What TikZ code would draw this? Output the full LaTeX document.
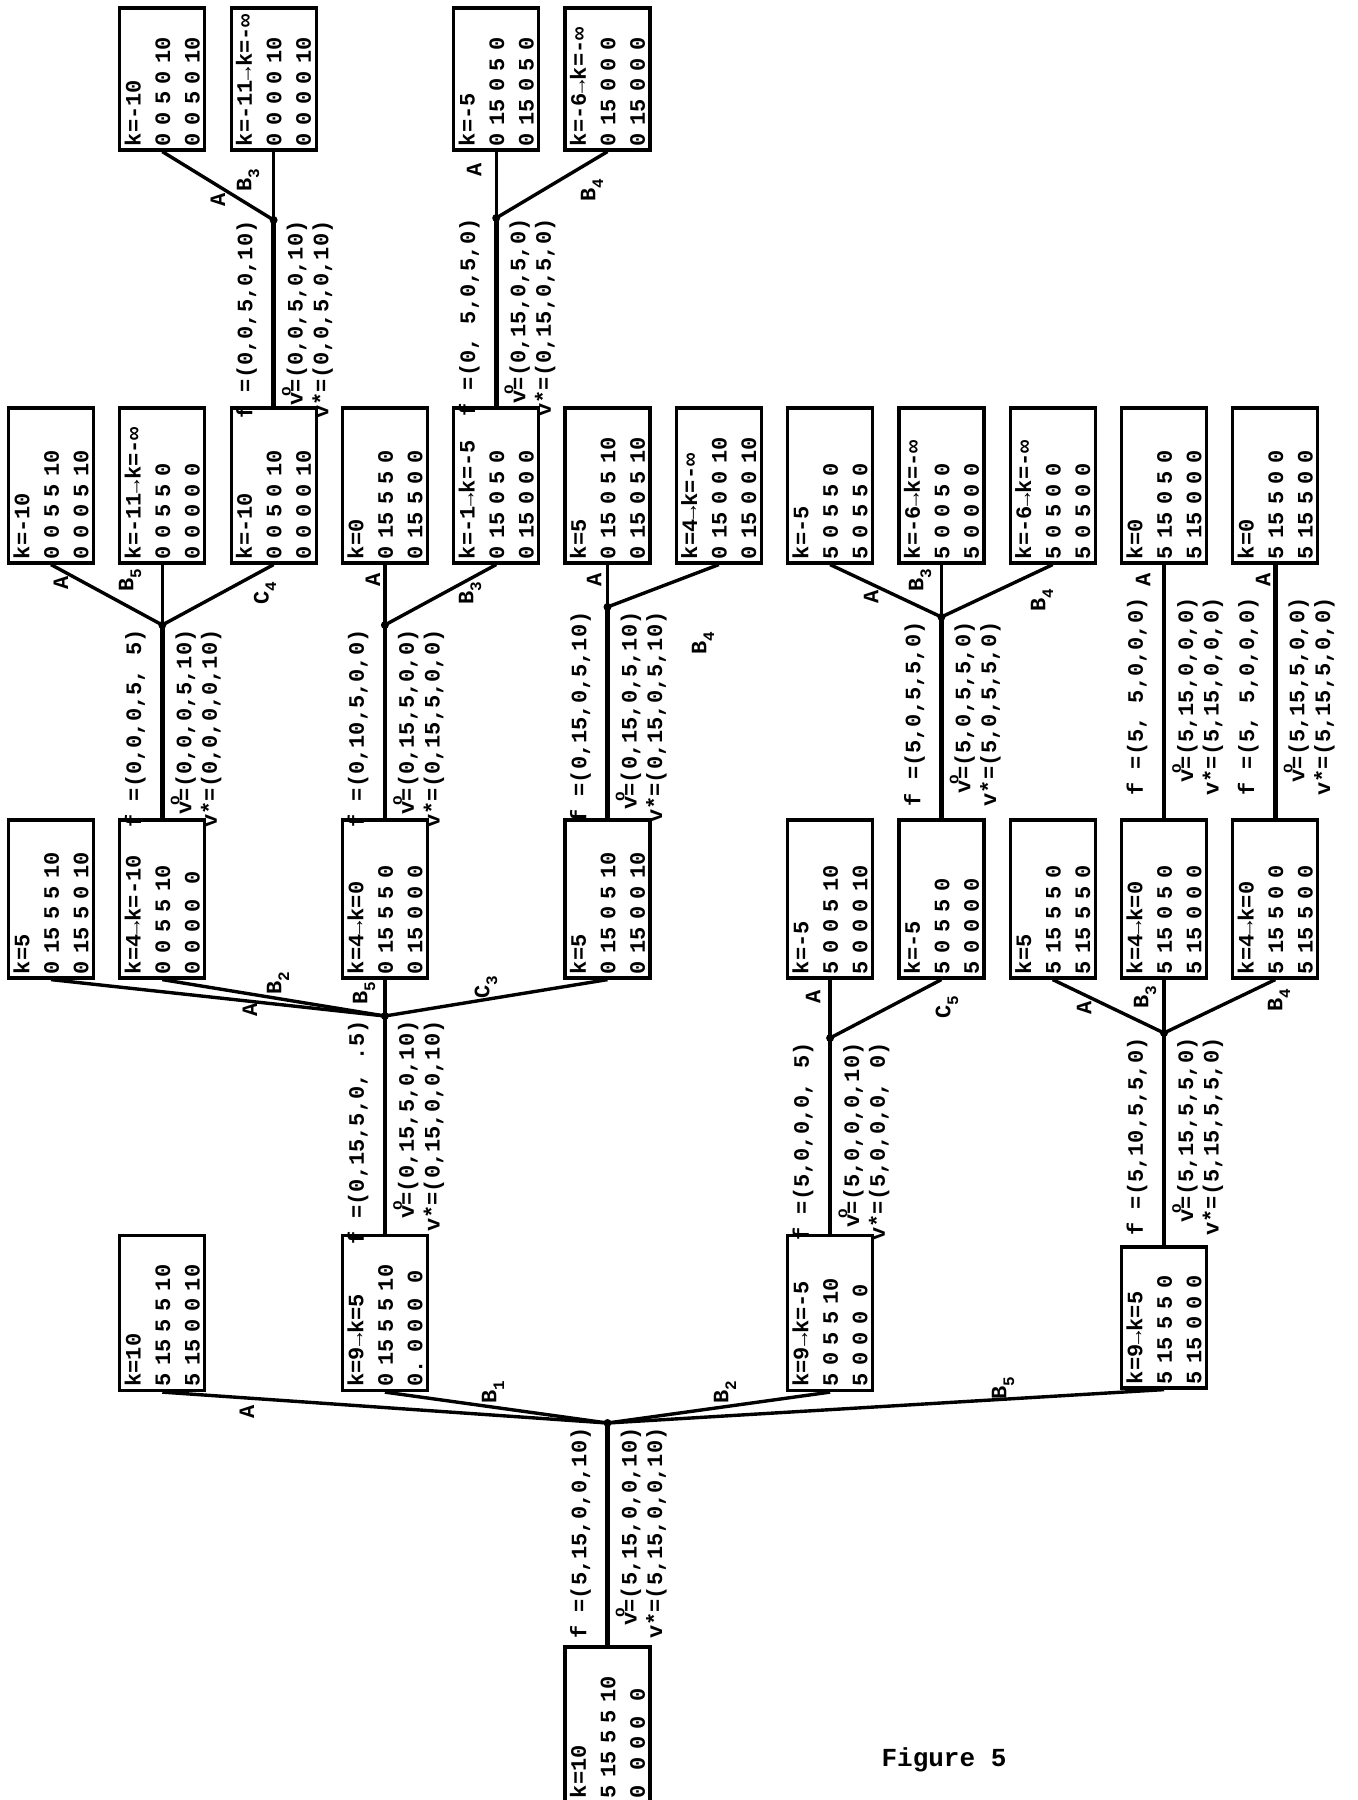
\documentclass[tikz,border=0pt]{standalone}
\usepackage{fontspec}
\newfontfamily\tyf{Liberation Mono}
\newcommand\tyfont[2]{\tyf\bfseries\fontsize{#1}{#2}\selectfont\fontdimen2\font=0.6em\fontdimen3\font=0pt\fontdimen4\font=0pt\relax}
\newcommand\vsup{\makebox[0pt][c]{\raisebox{0.55em}{\fontsize{8}{8}\selectfont o}}}
\newcommand\sbs[1]{\raisebox{-0.35em}{\fontsize{8}{8}\selectfont #1}}
\newcommand\stemlab[6]{%
  \node[lab] (#1f) at (#2-27,#3+4) {f =(#4)};
  \node[lab] (#1o) at (#2+21,#3+4) {v\vsup=(#5)};
  \node[lab] (#1s) at (#2+49,#3+4) {v*=(#6)};}
\begin{document}
\begin{tikzpicture}[x=0.5pt,y=-0.5pt,
  bx/.style={draw, line width=1.6pt, rotate=90, minimum height=42.5pt, inner xsep=2pt, inner ysep=0pt, text width=#1, align=left, font=\tyfont{11}{14.75}},
  bx/.default=73.5pt,
  lab/.style={rotate=90, anchor=east, inner sep=0pt, font=\tyfont{11}{13}},
  el/.style={rotate=90, inner sep=0pt, font=\tyfont{11}{13}},
  dot/.style={circle, fill, inner sep=0pt, minimum size=4pt},
  ln/.style={line width=1.7pt},
  stm/.style={line width=2.3pt}]
\fill[white] (0,0) rectangle (1358,1800);
\useasboundingbox (0,0) rectangle (1358,1800);

% ---------- root ----------
\node[bx] (r) at (607.5,1724.5) {k=10\\5 15 5 5 10\\0~~0 0 0~~0};
\node[dot] (j0) at (607.5,1423) {};

% ---------- level 1 ----------
\node[bx] (p1) at (162.3,1313) {k=10\\5 15 5 5 10\\5 15 0 0 10};
\node[bx] (p3) at (384.9,1313) {k=9→k=5\\0 15 5 5 10\\0.~0 0 0~~0};
\node[bx] (p7) at (830.1,1313) {k=9→k=-5\\5 0 5 5 10\\5 0 0 0~~0};
\node[bx=66.5pt] (p10) at (1164,1317.5) {k=9→k=5\\5 15 5 5 0\\5 15 0 0 0};
\node[dot] (jb1) at (384.9,1016) {};
\node[dot] (jb2) at (830.1,1038) {};
\node[dot] (jb5) at (1164,1033) {};

% ---------- level 2 ----------
\node[bx=75pt] (s0) at (51,899) {k=5\\0 15 5 5 10\\0 15 5 0 10};
\node[bx=75pt] (s1) at (162.3,899) {k=4→k=-10\\0 0 5 5 10\\0 0 0 0~~0};
\node[bx=75pt] (s3) at (384.9,899) {k=4→k=0\\0 15 5 5 0\\0 15 0 0 0};
\node[bx=75pt] (s5) at (607.5,899) {k=5\\0 15 0 5 10\\0 15 0 0 10};
\node[bx=75pt] (s7) at (830.1,899) {k=-5\\5 0 0 5 10\\5 0 0 0 10};
\node[bx=75pt] (s8) at (941.4,899) {k=-5\\5 0 5 5 0\\5 0 0 0 0};
\node[bx=75pt] (s9) at (1052.7,899) {k=5\\5 15 5 5 0\\5 15 5 5 0};
\node[bx=75pt] (s10) at (1164,899) {k=4→k=0\\5 15 0 5 0\\5 15 0 0 0};
\node[bx=75pt] (s11) at (1275.3,899) {k=4→k=0\\5 15 5 0 0\\5 15 5 0 0};
\node[dot] (jb1b2) at (162.3,625) {};
\node[dot] (jb1b5) at (384.9,625) {};
\node[dot] (jb1c3) at (607.5,607) {};
\node[dot] (jb2c5) at (941.4,617) {};

% ---------- level 3 ----------
\node[bx] (t0) at (51,485.5) {k=-10\\0 0 5 5 10\\0 0 0 5 10};
\node[bx] (t1) at (162.3,485.5) {k=-11→k=-∞\\0 0 5 5 0\\0 0 0 0 0};
\node[bx] (t2) at (273.6,485.5) {k=-10\\0 0 5 0 10\\0 0 0 0 10};
\node[bx] (t3) at (384.9,485.5) {k=0\\0 15 5 5 0\\0 15 5 0 0};
\node[bx] (t4) at (496.2,485.5) {k=-1→k=-5\\0 15 0 5 0\\0 15 0 0 0};
\node[bx] (t5) at (607.5,485.5) {k=5\\0 15 0 5 10\\0 15 0 5 10};
\node[bx] (t6) at (718.8,485.5) {k=4→k=-∞\\0 15 0 0 10\\0 15 0 0 10};
\node[bx] (t7) at (830.1,485.5) {k=-5\\5 0 5 5 0\\5 0 5 5 0};
\node[bx] (t8) at (941.4,485.5) {k=-6→k=-∞\\5 0 0 5 0\\5 0 0 0 0};
\node[bx] (t9) at (1052.7,485.5) {k=-6→k=-∞\\5 0 5 0 0\\5 0 5 0 0};
\node[bx] (t10) at (1164,485.5) {k=0\\5 15 0 5 0\\5 15 0 0 0};
\node[bx] (t11) at (1275.3,485.5) {k=0\\5 15 5 0 0\\5 15 5 0 0};
\node[dot] (jc4) at (273.6,220) {};
\node[dot] (jb3) at (496.2,218) {};

% ---------- level 4 ----------
\node[bx=67pt] (q1) at (162.3,79) {k=-10\\0 0 5 0 10\\0 0 5 0 10};
\node[bx=67pt] (q2) at (273.6,79) {k=-11→k=-∞\\0 0 0 0 10\\0 0 0 0 10};
\node[bx=67pt] (q4) at (496.2,79) {k=-5\\0 15 0 5 0\\0 15 0 5 0};
\node[bx=67pt] (q5) at (607.5,79) {k=-6→k=-∞\\0 15 0 0 0\\0 15 0 0 0};

% ---------- connectors ----------
\draw[stm] (r.east) -- (j0.center);
\draw[ln] (j0.center) -- (p1.west);
\draw[ln] (j0.center) -- (p3.west);
\draw[ln] (j0.center) -- (p7.west);
\draw[ln] (j0.center) -- (p10.west);

\draw[stm] (p3.east) -- (jb1.center);
\draw[stm] (p7.east) -- (jb2.center);
\draw[stm] (p10.east) -- (jb5.center);
\draw[ln] (jb1.center) -- (s0.west);
\draw[ln] (jb1.center) -- (s1.west);
\draw[ln] (jb1.center) -- (s3.west);
\draw[ln] (jb1.center) -- (s5.west);
\draw[ln] (jb2.center) -- (s7.west);
\draw[ln] (jb2.center) -- (s8.west);
\draw[ln] (jb5.center) -- (s9.west);
\draw[ln] (jb5.center) -- (s10.west);
\draw[ln] (jb5.center) -- (s11.west);

\draw[stm] (s1.east) -- (jb1b2.center);
\draw[stm] (s3.east) -- (jb1b5.center);
\draw[stm] (s5.east) -- (jb1c3.center);
\draw[stm] (s8.east) -- (jb2c5.center);
\draw[stm] (s10.east) -- (t10.west);
\draw[stm] (s11.east) -- (t11.west);
\draw[ln] (jb1b2.center) -- (t0.west);
\draw[ln] (jb1b2.center) -- (t1.west);
\draw[ln] (jb1b2.center) -- (t2.west);
\draw[ln] (jb1b5.center) -- (t3.west);
\draw[ln] (jb1b5.center) -- (t4.west);
\draw[ln] (jb1c3.center) -- (t5.west);
\draw[ln] (jb1c3.center) -- (t6.west);
\draw[ln] (jb2c5.center) -- (t7.west);
\draw[ln] (jb2c5.center) -- (t8.west);
\draw[ln] (jb2c5.center) -- (t9.west);

\draw[stm] (t2.east) -- (jc4.center);
\draw[stm] (t4.east) -- (jb3.center);
\draw[ln] (jc4.center) -- (q1.west);
\draw[ln] (jc4.center) -- (q2.west);
\draw[ln] (jb3.center) -- (q4.west);
\draw[ln] (jb3.center) -- (q5.west);

% ---------- stem labels ----------
\stemlab{r}{607.5}{1423}{5,15,0,0,10}{5,15,0,0,10}{5,15,0,0,10}
\stemlab{p3}{384.9}{1016}{0,15,5,0, .5}{0,15,5,0,10}{0,15,0,0,10}
\stemlab{p7}{830.1}{1038}{5,0,0,0, 5}{5,0,0,0,10}{5,0,0,0, 0}
\stemlab{p10}{1164}{1033}{5,10,5,5,0}{5,15,5,5,0}{5,15,5,5,0}
\stemlab{s1}{162.3}{625}{0,0,0,5, 5}{0,0,0,5,10}{0,0,0,0,10}
\stemlab{s3}{384.9}{625}{0,10,5,0,0}{0,15,5,0,0}{0,15,5,0,0}
\stemlab{s5}{607.5}{607}{0,15,0,5,10}{0,15,0,5,10}{0,15,0,5,10}
\stemlab{s8}{941.4}{617}{5,0,5,5,0}{5,0,5,5,0}{5,0,5,5,0}
\stemlab{s10}{1164}{593}{5, 5,0,0,0}{5,15,0,0,0}{5,15,0,0,0}
\stemlab{s11}{1275.3}{593}{5, 5,0,0,0}{5,15,5,0,0}{5,15,5,0,0}
\stemlab{t2}{273.6}{216}{0,0,5,0,10}{0,0,5,0,10}{0,0,5,0,10}
\stemlab{t4}{496.2}{214}{0, 5,0,5,0}{0,15,0,5,0}{0,15,0,5,0}

% ---------- edge labels ----------
\node[el] (e1) at (247,1412) {A};
\node[el] (e2) at (493,1392) {B\sbs{1}};
\node[el] (e3) at (725,1392) {B\sbs{2}};
\node[el] (e4) at (1003,1388) {B\sbs{5}};
\node[el] (e5) at (250,1010) {A};
\node[el] (e6) at (278,983) {B\sbs{2}};
\node[el] (e7) at (364,993) {B\sbs{5}};
\node[el] (e8) at (486,987) {C\sbs{3}};
\node[el] (e9) at (813,997) {A};
\node[el] (e10) at (947,1007) {C\sbs{5}};
\node[el] (e11) at (1084,1008) {A};
\node[el] (e12) at (1145,997) {B\sbs{3}};
\node[el] (e13) at (1279,1000) {B\sbs{4}};
\node[el] (e14) at (61,583) {A};
\node[el] (e15) at (130,580) {B\sbs{5}};
\node[el] (e16) at (265,593) {C\sbs{4}};
\node[el] (e17) at (373,580) {A};
\node[el] (e18) at (470,593) {B\sbs{3}};
\node[el] (e19) at (594,580) {A};
\node[el] (e20) at (703,643) {B\sbs{4}};
\node[el] (e21) at (871,597) {A};
\node[el] (e22) at (920,580) {B\sbs{3}};
\node[el] (e23) at (1042,600) {B\sbs{4}};
\node[el] (e24) at (1143,580) {A};
\node[el] (e25) at (1263,580) {A};
\node[el] (e26) at (218,200) {A};
\node[el] (e27) at (248,180) {B\sbs{3}};
\node[el] (e28) at (474,170) {A};
\node[el] (e29) at (592,190) {B\sbs{4}};

\node[font=\tyfont{13}{15}] (fig) at (944,1760) {Figure 5};
\end{tikzpicture}
\end{document}
